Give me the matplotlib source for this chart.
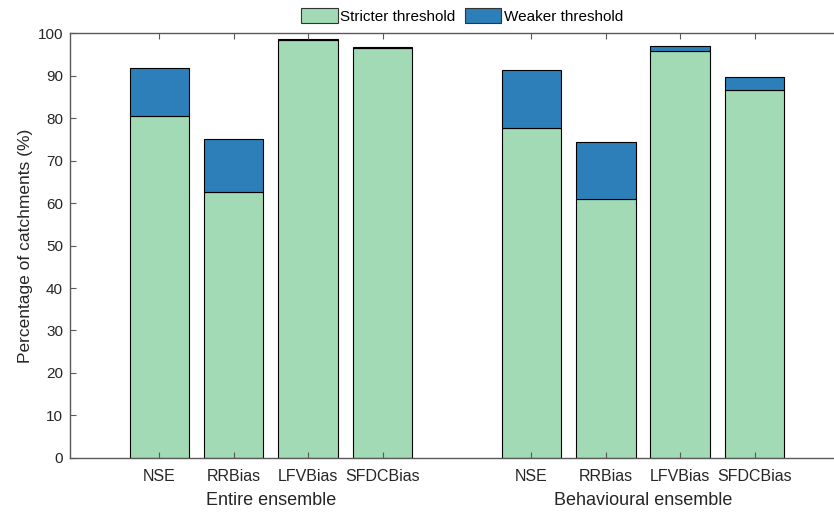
"""Stacked bar chart: share of catchments meeting stricter/weaker thresholds."""

import matplotlib

matplotlib.use("Agg")
import matplotlib.pyplot as plt

plt.rcParams["font.family"] = ["Liberation Sans", "DejaVu Sans"]
plt.rcParams["font.size"] = 11

# Data
metrics = ["NSE", "RRBias", "LFVBias", "SFDCBias"]
groups = ["Entire ensemble", "Behavioural ensemble"]
positions = [1, 2, 3, 4, 6, 7, 8, 9]
stricter = [80.5, 62.6, 98.3, 96.4, 77.6, 61.0, 95.8, 86.5]
total = [91.8, 75.1, 98.6, 96.7, 91.2, 74.4, 96.9, 89.7]
weaker = [t - s for t, s in zip(total, stricter)]

green = "#a1dab4"
blue = "#2c7fb8"
axis_col = "#595959"

fig = plt.figure(figsize=(8.34, 5.12), dpi=100)
ax = fig.add_axes([0.0839, 0.1055, 0.928, 0.83])

ax.bar(positions, stricter, width=0.8, color=green, edgecolor="black",
       linewidth=0.8, label="Stricter threshold")
ax.bar(positions, weaker, width=0.8, bottom=stricter, color=blue,
       edgecolor="black", linewidth=0.8, label="Weaker threshold")

ax.set_xlim(-0.2, 10.2)
ax.set_ylim(0, 100)
ax.set_yticks(range(0, 101, 10))
ax.set_xticks(positions)
ax.set_xticklabels(metrics * 2)
ax.tick_params(direction="in", top=True, right=True, colors="#262626",
               length=4, width=0.8, labelsize=11)
ax.tick_params(axis="x", pad=8, color=axis_col, labelsize=11.5)
ax.tick_params(axis="y", pad=5, color=axis_col)
for sp in ax.spines.values():
    sp.set_color(axis_col)
    sp.set_linewidth(1.0)

ax.set_ylabel("Percentage of catchments (%)", fontsize=12.5, color="#262626")
ax.yaxis.set_label_coords(-0.048, 0.5)

# group labels under the tick labels
for i, name in enumerate(groups):
    centre = sum(positions[4 * i:4 * i + 4]) / 4
    ax.text(centre, -0.1, name, transform=ax.get_xaxis_transform(),
            ha="center", va="center", fontsize=13, color="#262626")

leg = fig.legend(loc="center", bbox_to_anchor=(462 / 834, 1 - 16 / 512),
                 ncol=2, frameon=False, handlelength=2.4, handleheight=1.1,
                 handletextpad=0.15, columnspacing=0.6, fontsize=11)
for h in leg.legend_handles:
    h.set_edgecolor("#333333")

fig.savefig("out.png", dpi=100)
